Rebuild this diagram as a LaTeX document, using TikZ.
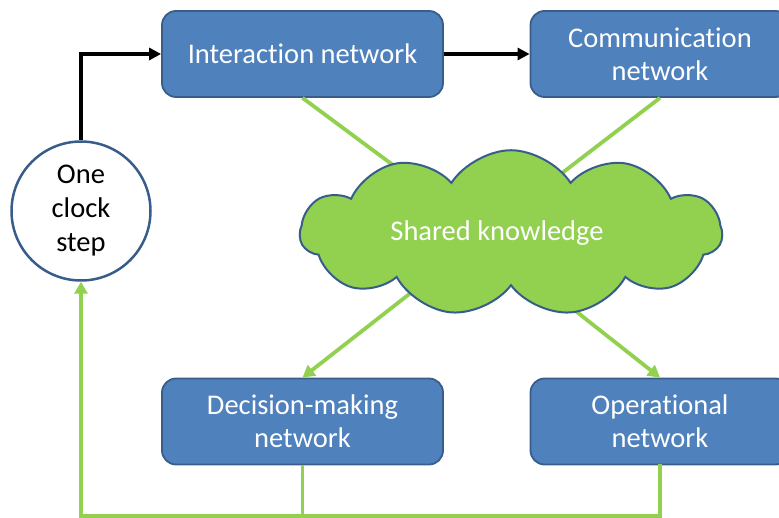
\documentclass[tikz,border=0pt]{standalone}
\usepackage{fontspec}
\setmainfont{Carlito}[Ligatures=NoCommon]
\usetikzlibrary{shapes.symbols,arrows.meta}
\definecolor{boxfill}{HTML}{4F81BD}
\definecolor{boxline}{HTML}{385D8A}
\definecolor{grn}{HTML}{92D050}
\begin{document}
\begin{tikzpicture}[x=1pt,y=-1pt,
  netbox/.style={draw=boxline, line width=1.8pt, fill=boxfill, rounded corners=14pt,
    minimum width=281pt, minimum height=86pt, inner sep=0pt, align=center,
    text=white, font=\fontsize{28.5}{33}\selectfont},
  clockc/.style={circle, draw=boxline, line width=2.5pt, fill=white, minimum size=139pt,
    inner sep=0pt, align=center, font=\fontsize{28.5}{34}\selectfont},
  blkarrow/.style={line width=3.2pt, -{Triangle[length=12pt,width=12pt]}},
  grnline/.style={draw=grn, line width=3.8pt},
  grnarrow/.style={grnline, -{Triangle[length=12pt,width=13pt]}},
  skcloud/.style={cloud, cloud puffs=11, cloud puff arc=115, draw=boxline, line width=2pt,
    fill=grn, minimum width=422pt, minimum height=152pt, inner sep=0pt, aspect=2.9,
    text=white, font=\fontsize{28.5}{33}\selectfont}
]
\clip (0,0) rectangle (779,518);
\useasboundingbox (0,0) rectangle (779,518);

\node[netbox] (inter) at (302.5,54) {Interaction network};
\node[netbox, minimum width=259pt] (comm) at (660,54) {Communication\\network};
\node[netbox] (dec) at (302.5,421.5) {Decision-making\\network};
\node[netbox, minimum width=259pt] (oper) at (660,421.5) {Operational\\network};
\node[clockc] (clock) at (81,211) {One\\clock\\step};

\coordinate (c1) at (440,200);
\coordinate (c2) at (540,190);
\coordinate (c3) at (440,270);
\coordinate (c4) at (530,275);
\coordinate (b1) at (302.5,516);
\coordinate (b2) at (660,516);
\coordinate (b0) at (81,516);

\draw[grnline] (inter.south) -- (c1);
\draw[grnline] (comm.south) -- (c2);
\draw[grnarrow] (c3) -- (dec.north);
\draw[grnarrow] (c4) -- (oper.north);

\node[skcloud] (sk) at (511,233) {Shared knowledge\kern28pt\relax};

\draw[blkarrow] (clock.north) |- (inter.west);
\draw[blkarrow] (inter.east) -- (comm.west);

\draw[grnline] (dec.south) -- (b1);
\draw[grnline, line cap=rect] (oper.south) -- (b2) -- (b0);
\draw[grnarrow] (b0) -- (clock.south);
\end{tikzpicture}
\end{document}
